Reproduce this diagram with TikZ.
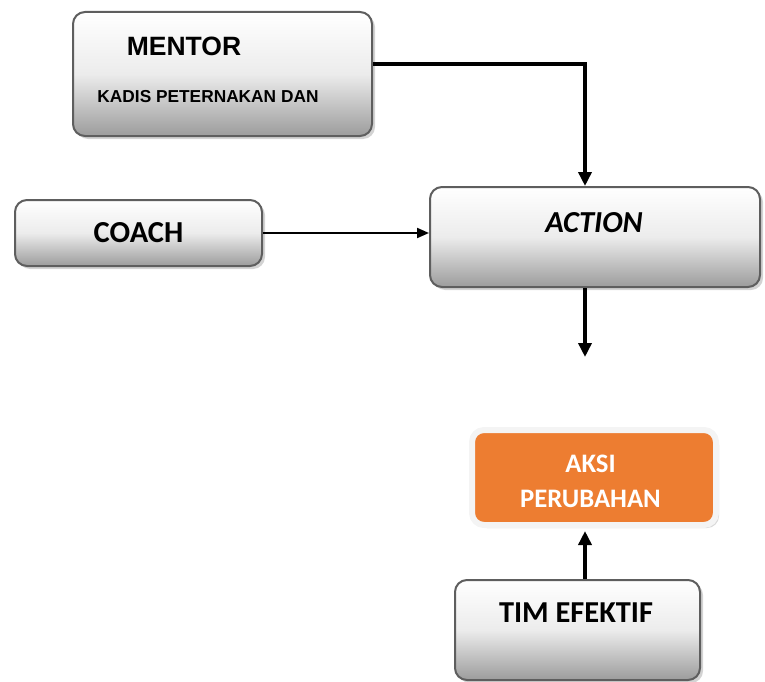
\documentclass[tikz,border=0pt]{standalone}
\usepackage{fontspec}
\setmainfont{Carlito}
\newfontfamily\arialf{Liberation Sans}
\usetikzlibrary{shadows,arrows.meta}
\definecolor{boxborder}{HTML}{5E5E5E}
\definecolor{boxbottom}{HTML}{9C9C9C}
\definecolor{orangefill}{HTML}{ED7D31}
\definecolor{orangeborder}{HTML}{F4F4F4}
\tikzset{
  graybox/.style={rectangle, rounded corners=12pt, draw=boxborder, line width=2pt,
    top color=white, bottom color=boxbottom, middle color=gray!15,
    drop shadow={shadow xshift=3pt, shadow yshift=-3pt, opacity=0.35, fill=gray},
    inner sep=0pt},
  orangebox/.style={rectangle, rounded corners=12pt, draw=orangeborder, line width=6pt,
    fill=orangefill,
    drop shadow={shadow xshift=3pt, shadow yshift=-3pt, opacity=0.3, fill=gray},
    inner sep=0pt},
  boldarrow/.style={line width=4pt, -{Triangle[width=13pt,length=14pt]}},
  thinarrow/.style={line width=2pt, -{Triangle[width=10pt,length=12pt]}},
  lbl/.style={font=\bfseries, inner sep=0pt, anchor=center}
}
\begin{document}
\begin{tikzpicture}[x=1pt,y=-1pt]
\useasboundingbox (0,0) rectangle (765,682);
% boxes
\node[graybox, minimum width=299pt, minimum height=124pt] (mentor) at (222.5,74) {};
\node[lbl, font=\arialf\bfseries\fontsize{26.5}{30}\selectfont] (mentort) at (184,46) {MENTOR};
\node[lbl, font=\arialf\bfseries\fontsize{17.3}{20}\selectfont] (kadis) at (208,97) {KADIS PETERNAKAN DAN};
\node[graybox, minimum width=247pt, minimum height=66pt] (coach) at (138.5,233) {};
\node[lbl, font=\bfseries\fontsize{30.5}{34}\selectfont] (coacht) at (138.5,233) {COACH};
\node[graybox, minimum width=330pt, minimum height=100pt] (action) at (595,237) {};
\node[lbl, font=\bfseries\itshape\fontsize{30.5}{34}\selectfont] (actiont) at (594,223) {ACTION};
\node[orangebox, minimum width=244pt, minimum height=95pt] (aksi) at (594,477.5) {};
\node[lbl, text=white, font=\bfseries\fontsize{26.7}{35}\selectfont, align=center] (aksit) at (590.5,481) {AKSI\\PERUBAHAN};
\node[graybox, minimum width=245pt, minimum height=100pt] (tim) at (577.5,630) {};
\node[lbl, font=\bfseries\fontsize{30.4}{34}\selectfont] (timt) at (576,613) {TIM EFEKTIF};
% connectors
\coordinate (down) at (585,357);
\draw[boldarrow] ([yshift=10pt]mentor.east) -| ([xshift=-10pt]action.north);
\draw[thinarrow] (coach.east) -- (coach.east -| action.west);
\draw[boldarrow] (action.south -| down) -- (down);
\draw[boldarrow] (tim.north -| down) -- ([yshift=-3pt]aksi.south -| down);
\end{tikzpicture}
\end{document}
